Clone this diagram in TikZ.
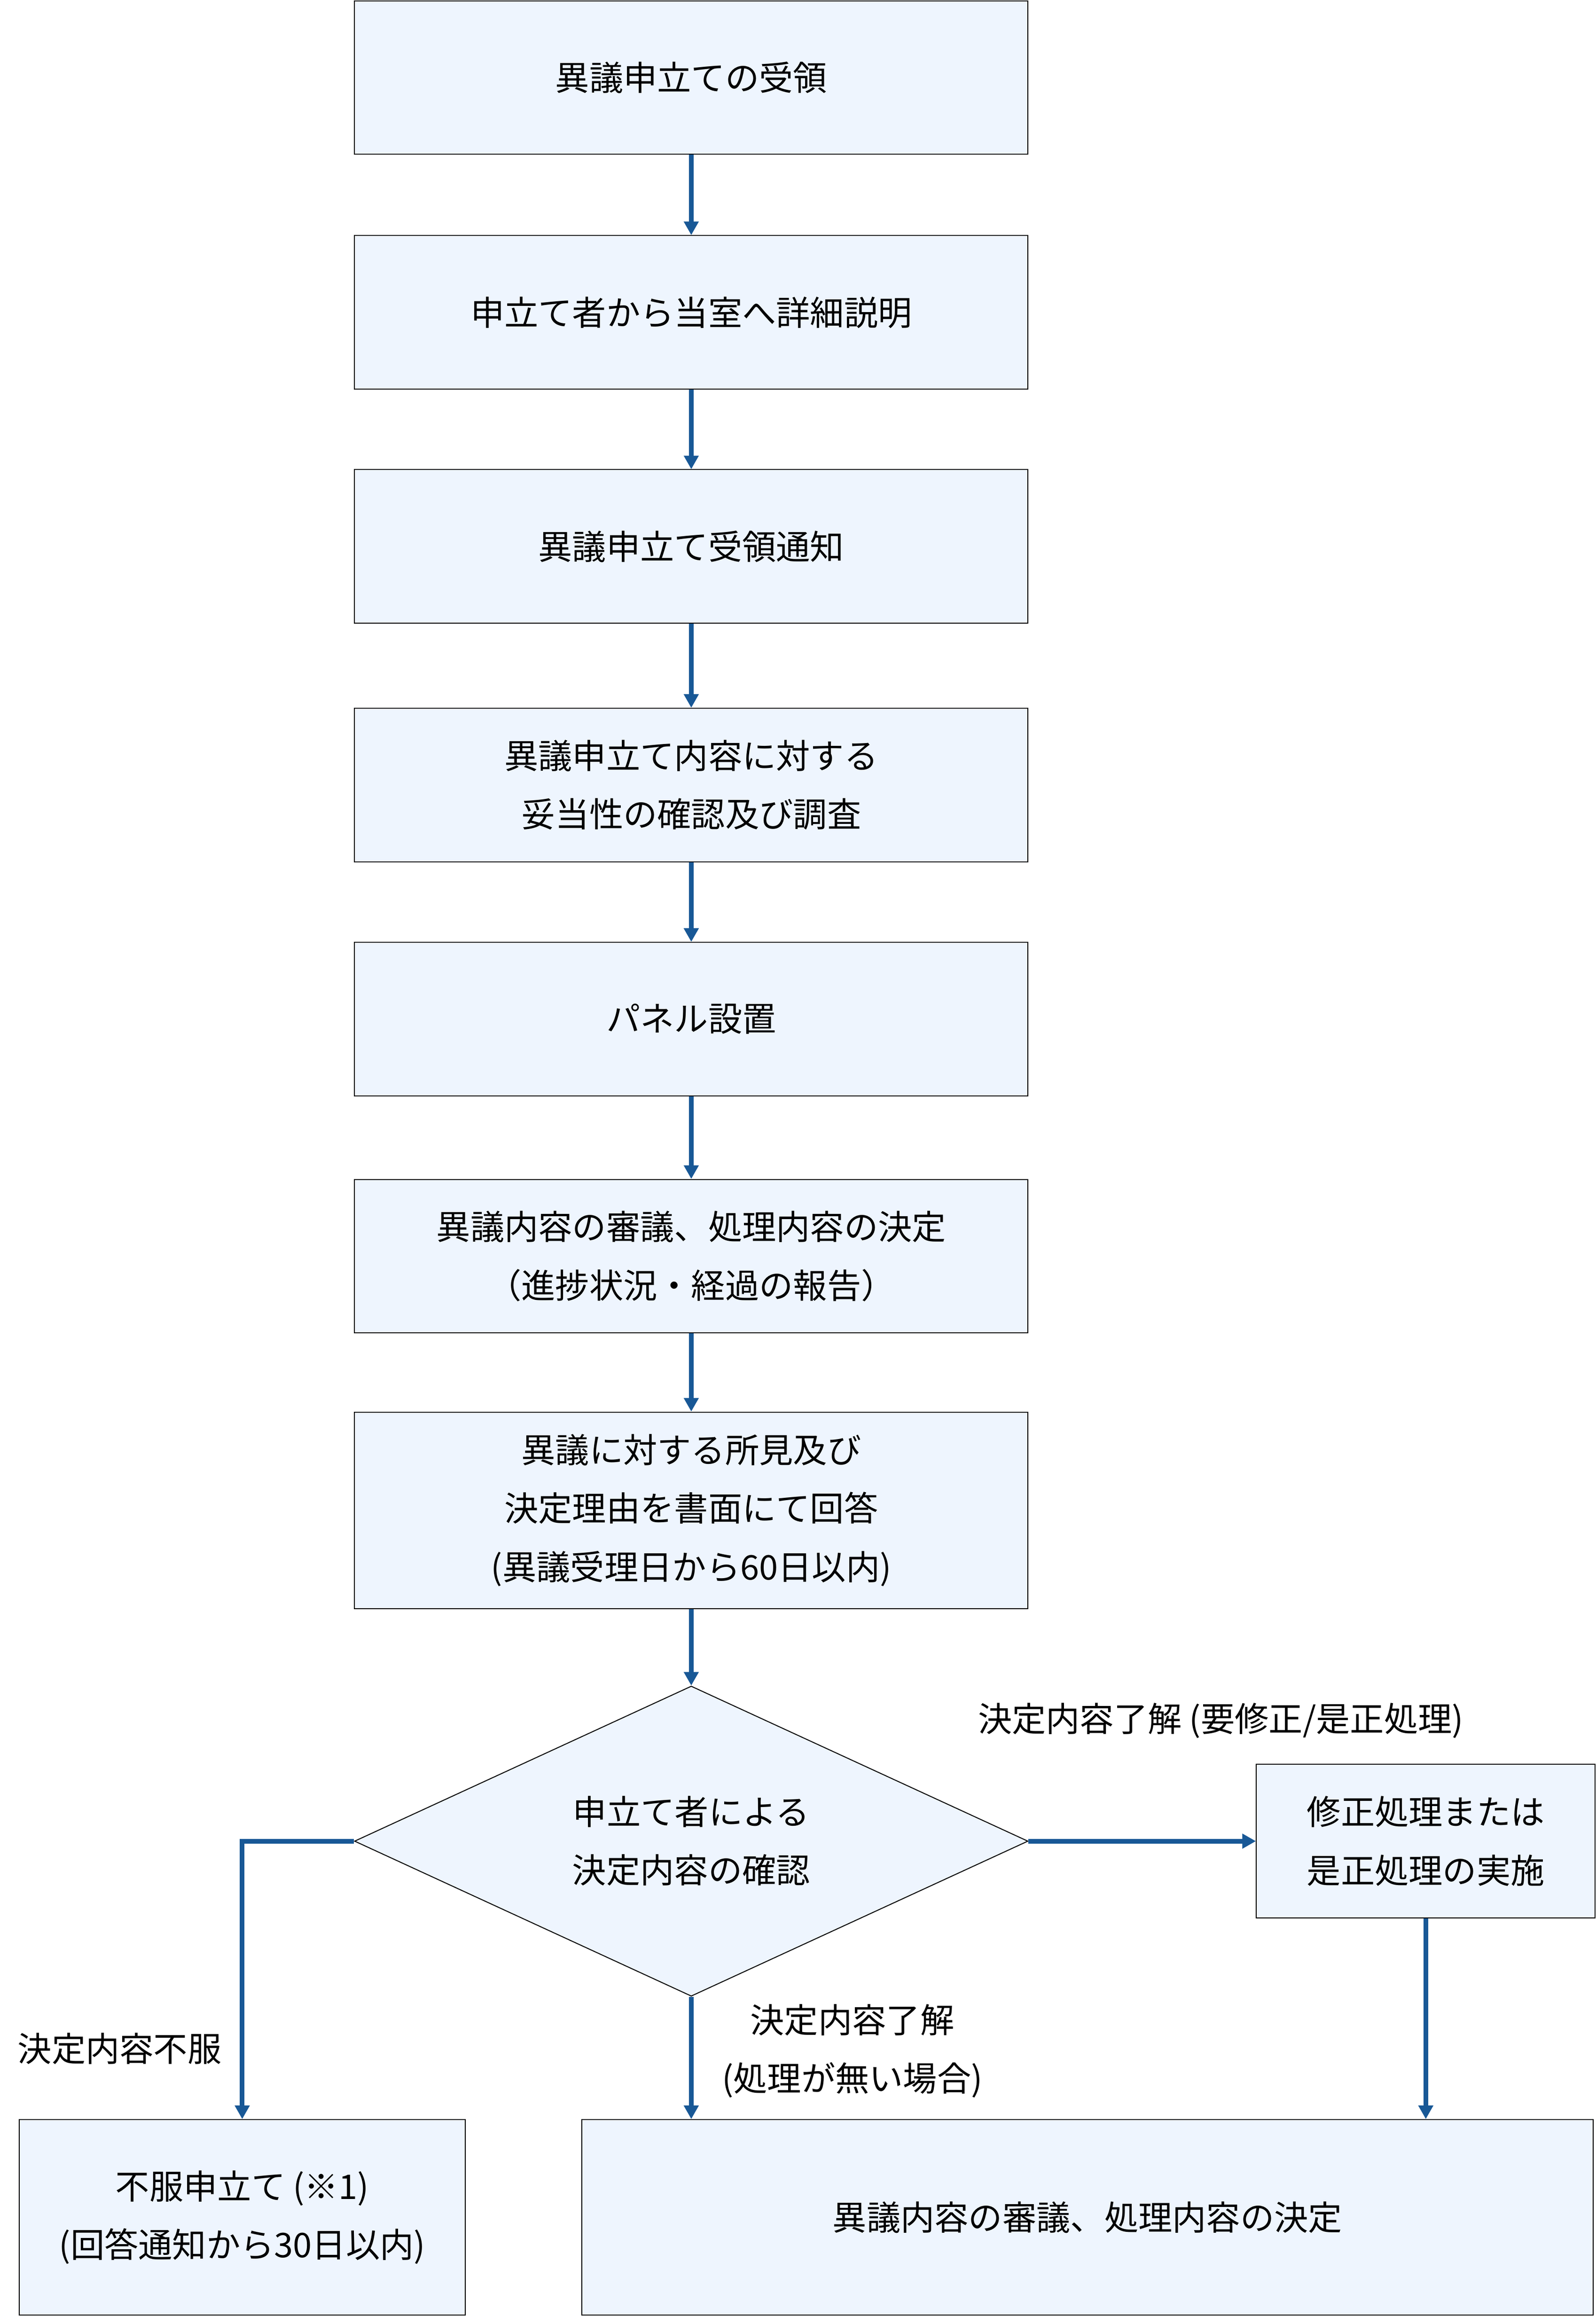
\documentclass[tikz,border=0pt]{standalone}
\usepackage{fontspec}
\setmainfont{Noto Sans CJK JP}
\usetikzlibrary{arrows.meta,shapes.geometric}
\definecolor{flowblue}{RGB}{24,88,150}
\definecolor{boxfill}{RGB}{238,245,254}
\tikzset{
  flownode/.style = {align=center, inner sep=0pt, text centered,
    font=\fontsize{11.5}{19.75}\selectfont},
  fl_box/.style = {flownode, rectangle, draw=black, fill=boxfill,
    line width=0.32pt, minimum width=228pt, minimum height=52pt},% step box
  fl_tall/.style = {fl_box, minimum height=66.5pt},% three-line box
  fl_dec/.style = {flownode, diamond, draw=black, fill=boxfill,
    line width=0.32pt, shape aspect=2.17, minimum width=228pt,
    minimum height=105pt},% decision
  fl_lbl/.style = {flownode},% branch label
  fl_arr/.style = {draw=flowblue, line width=1.6pt,
    -{Triangle[width=4.8pt,length=4.6pt]}}
}

\begin{document}
\begin{tikzpicture}[x=0.5pt,y=-0.5pt]
\useasboundingbox (0,0) rectangle (1080.5,1568);
\node [fl_box] (recv) at (468,52.5) {異議申立ての受領};
\node [fl_box] (expl) at (468,211.5) {申立て者から当室へ詳細説明};
\node [fl_box] (notice) at (468,370) {異議申立て受領通知};
\node [fl_box] (inves) at (468,531.5) {異議申立て内容に対する\\妥当性の確認及び調査};
\node [fl_box] (panel) at (468,690) {パネル設置};
\node [fl_box] (delib) at (468,850.5) {異議内容の審議、処理内容の決定\\（進捗状況・経過の報告）};
\node [fl_tall] (answer) at (468,1022.5) {異議に対する所見及び\\決定理由を書面にて回答\\(異議受理日から60日以内)};
\node [fl_dec] (check) at (468,1246.5) {申立て者による\\決定内容の確認};
\node [fl_box, minimum width=114.7pt] (fix) at (965.3,1246.5) {修正処理または\\是正処理の実施};
\node [fl_tall, minimum width=151pt, minimum height=66.25pt] (appeal) at (164,1501.25) {不服申立て (※1)\\(回答通知から30日以内)};
\node [fl_tall, minimum width=342.25pt, minimum height=66.25pt] (final) at (736.25,1501.25) {異議内容の審議、処理内容の決定};

% labels
\node [fl_lbl] (lblfix) at (826.5,1165) {決定内容了解 (要修正/是正処理)};
\node [fl_lbl] (lblrej) at (81,1387) {決定内容不服};
\node [fl_lbl] (lblok) at (577,1388.5) {決定内容了解\\(処理が無い場合)};

\draw [fl_arr] (recv) -- (expl);
\draw [fl_arr] (expl) -- (notice);
\draw [fl_arr] (notice) -- (inves);
\draw [fl_arr] (inves) -- (panel);
\draw [fl_arr] (panel) -- (delib);
\draw [fl_arr] (delib) -- (answer);
\draw [fl_arr] (answer) -- (check);
\draw [fl_arr] (check.east) -- (fix.west);
\draw [fl_arr] (check.west) -| (appeal.north);
\draw [fl_arr] (check.south) -- (check.south |- final.north);
\draw [fl_arr] (fix.south) -- (fix.south |- final.north);
\end{tikzpicture}
\end{document}
